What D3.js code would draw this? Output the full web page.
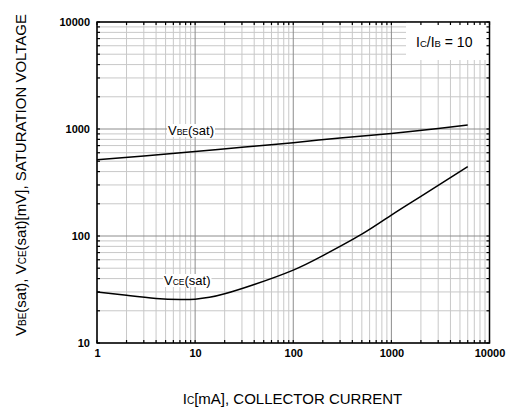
<!DOCTYPE html>
<html><head><meta charset="utf-8">
<script src="https://cdn.jsdelivr.net/npm/d3@7"></script>
<style>
body{margin:0;background:#fff;}
svg{display:block;font-family:"Liberation Sans",Arial,sans-serif;}
</style></head>
<body>
<svg id="c" width="509" height="413"></svg>
<script>
// Data
const xTickValues = [1, 10, 100, 1000, 10000];
const xTickLabels = ["1", "10", "100", "1000", "10000"];
const yTickValues = [10, 100, 1000, 10000];
const yTickLabels = ["10", "100", "1000", "10000"];
const vbeCurrent = [1, 3, 10, 30, 100, 300, 1000, 3000, 6000];
const vbeVoltage = [515, 560, 615, 675, 745, 825, 910, 1010, 1090];
const vceCurrent = [1, 2, 4, 7, 10, 14, 20, 40, 100, 200, 500, 1000, 2000, 6000];
const vceVoltage = [30, 27.9, 26.1, 25.5, 25.7, 26.7, 28.8, 35.2, 48, 65.5, 104, 157, 235, 445];

const svg = d3.select("#c");
const L = 97, R = 489.5, T = 22, B = 343;
const x = d3.scaleLog().domain([1, 10000]).range([L, R]);
const y = d3.scaleLog().domain([10, 10000]).range([B, T]);

const xAll = [], yAll = [];
for (let d = 1; d < 10000; d *= 10) for (let k = 1; k <= 9; k++) xAll.push(d * k);
xAll.push(10000);
for (let d = 10; d < 10000; d *= 10) for (let k = 1; k <= 9; k++) yAll.push(d * k);
yAll.push(10000);
const isMajor = v => Math.abs(Math.log10(v) - Math.round(Math.log10(v))) < 1e-9;

const g = svg.append("g");
g.selectAll(".vx").data(xAll.filter(v => !isMajor(v))).join("line")
  .attr("x1", d => x(d)).attr("x2", d => x(d)).attr("y1", T).attr("y2", B)
  .attr("stroke", "#c8c8c8").attr("stroke-width", 1);
g.selectAll(".hy").data(yAll.filter(v => !isMajor(v))).join("line")
  .attr("y1", d => y(d)).attr("y2", d => y(d)).attr("x1", L).attr("x2", R)
  .attr("stroke", "#c8c8c8").attr("stroke-width", 1);
g.selectAll(".mx").data(xAll.filter(isMajor)).join("line")
  .attr("x1", d => x(d)).attr("x2", d => x(d)).attr("y1", T).attr("y2", B)
  .attr("stroke", "#8c8c8c").attr("stroke-width", 1);
g.selectAll(".my").data(yAll.filter(isMajor)).join("line")
  .attr("y1", d => y(d)).attr("y2", d => y(d)).attr("x1", L).attr("x2", R)
  .attr("stroke", "#8c8c8c").attr("stroke-width", 1);

// legend box
svg.append("rect").attr("x", 406).attr("y", T).attr("width", R - 406).attr("height", 38).attr("fill", "#fff");
const leg = svg.append("text").attr("x", 416).attr("y", 47).attr("font-size", 14).attr("fill", "#000");
leg.append("tspan").text("I");
leg.append("tspan").attr("font-size", 9.5).text("C");
leg.append("tspan").text("/I");
leg.append("tspan").attr("font-size", 9.5).text("B");
leg.append("tspan").text(" = 10");

// curves
const line = d3.line().x(d => x(d[0])).y(d => y(d[1])).curve(d3.curveNatural);
svg.append("path").datum(vbeCurrent.map((c, i) => [c, vbeVoltage[i]]))
  .attr("d", line).attr("fill", "none").attr("stroke", "#000").attr("stroke-width", 1.5);
svg.append("path").datum(vceCurrent.map((c, i) => [c, vceVoltage[i]]))
  .attr("d", line).attr("fill", "none").attr("stroke", "#000").attr("stroke-width", 1.5);

function subLabel(xp, yp, main, sub, rest) {
  const grp = svg.append("g");
  const t = grp.append("text").attr("x", xp).attr("y", yp).attr("font-size", 13).attr("fill", "#000");
  t.append("tspan").text(main);
  t.append("tspan").attr("font-size", 8.5).text(sub);
  t.append("tspan").text(rest);
  const bb = t.node().getBBox();
  grp.insert("rect", "text").attr("x", bb.x - 1).attr("y", bb.y + 1).attr("width", bb.width + 2).attr("height", bb.height - 2).attr("fill", "#fff");
}
subLabel(168, 135, "V", "BE", "(sat)");
subLabel(164, 285, "V", "CE", "(sat)");

// inside ticks
const tk = 3;
svg.append("g").selectAll("line").data(xAll).join("line")
  .attr("x1", d => x(d)).attr("x2", d => x(d)).attr("y1", B).attr("y2", B - tk).attr("stroke", "#000").attr("stroke-width", 1.2);
svg.append("g").selectAll("line").data(xAll).join("line")
  .attr("x1", d => x(d)).attr("x2", d => x(d)).attr("y1", T).attr("y2", T + tk).attr("stroke", "#000").attr("stroke-width", 1.2);
svg.append("g").selectAll("line").data(yAll).join("line")
  .attr("y1", d => y(d)).attr("y2", d => y(d)).attr("x1", L).attr("x2", L + tk).attr("stroke", "#000").attr("stroke-width", 1.2);
svg.append("g").selectAll("line").data(yAll).join("line")
  .attr("y1", d => y(d)).attr("y2", d => y(d)).attr("x1", R).attr("x2", R - tk).attr("stroke", "#000").attr("stroke-width", 1.2);

// frame
svg.append("rect").attr("x", L).attr("y", T).attr("width", R - L).attr("height", B - T)
  .attr("fill", "none").attr("stroke", "#000").attr("stroke-width", 1.5);

// axes
const xAxis = d3.axisBottom(x).tickValues(xTickValues).tickFormat((d, i) => xTickLabels[i]).tickSize(0).tickPadding(0);
const gx = svg.append("g").attr("transform", `translate(0,${B})`).call(xAxis);
gx.select(".domain").remove();
gx.selectAll("text").attr("dy", null).attr("y", 14.3).attr("font-size", 11).attr("font-weight", "bold")
  .attr("font-family", "Liberation Sans, Arial, sans-serif").attr("fill", "#000");

const yAxis = d3.axisLeft(y).tickValues(yTickValues).tickFormat((d, i) => yTickLabels[i]).tickSize(0).tickPadding(7);
const gy = svg.append("g").attr("transform", `translate(${L},0)`).call(yAxis);
gy.select(".domain").remove();
gy.selectAll("text").attr("font-size", 11).attr("font-weight", "bold")
  .attr("font-family", "Liberation Sans, Arial, sans-serif").attr("fill", "#000");

// x title
const xt = svg.append("text").attr("x", 292.5).attr("y", 403.5).attr("text-anchor", "middle").attr("font-size", 15).attr("fill", "#000");
xt.append("tspan").text("I");
xt.append("tspan").attr("font-size", 10).text("C");
xt.append("tspan").text("[mA], COLLECTOR CURRENT");

// y title
const yt = svg.append("text").attr("transform", "translate(25.5,175) rotate(-90)").attr("text-anchor", "middle").attr("font-size", 15).attr("fill", "#000");
yt.append("tspan").text("V");
yt.append("tspan").attr("font-size", 10).text("BE");
yt.append("tspan").text("(sat),  V");
yt.append("tspan").attr("font-size", 10).text("CE");
yt.append("tspan").text("(sat)[mV], SATURATION VOLTAGE");
</script>
</body></html>
